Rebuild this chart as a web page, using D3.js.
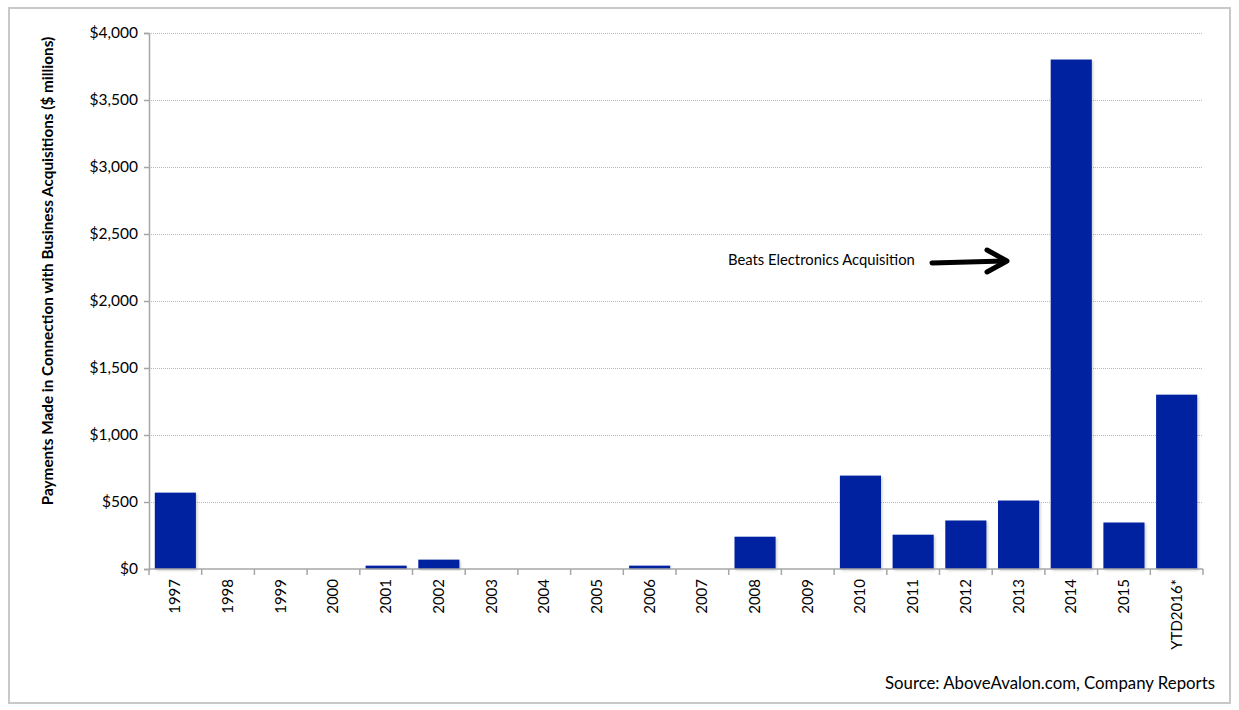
<!DOCTYPE html>
<html>
<head>
<meta charset="utf-8">
<script src="https://cdn.jsdelivr.net/npm/d3@7"></script>
<style>
  body { margin: 0; background: #fff; }
  svg { display: block; font-family: Lato, "Open Sans", sans-serif; }
</style>
</head>
<body>
<svg id="chart"></svg>
<script>
const years = ["1997", "1998", "1999", "2000", "2001", "2002", "2003", "2004", "2005", "2006",
  "2007", "2008", "2009", "2010", "2011", "2012", "2013", "2014", "2015", "YTD2016*"];
const payments = [570, 0, 0, 0, 25, 70, 0, 0, 0, 25,
  0, 241, 0, 697, 256, 362, 511, 3802, 347, 1301];
const yTicks = [0, 500, 1000, 1500, 2000, 2500, 3000, 3500, 4000];

const width = 1239, height = 710;
const margin = { top: 33, right: 36, bottom: 141, left: 149 };

const svg = d3.select("#chart")
  .attr("width", width)
  .attr("height", height);

// outer frame
svg.append("rect")
  .attr("x", 9).attr("y", 8)
  .attr("width", 1221).attr("height", 695)
  .attr("fill", "none")
  .attr("stroke", "#c8c8c8")
  .attr("stroke-width", 2);

const x = d3.scaleBand()
  .domain(years)
  .range([margin.left, width - margin.right])
  .paddingInner(0.22)
  .paddingOuter(0.11);

const y = d3.scaleLinear()
  .domain([0, 4000])
  .range([height - margin.bottom, margin.top]);

// gridlines
svg.append("g")
  .selectAll("line")
  .data(yTicks.filter(d => d > 0))
  .join("line")
  .attr("x1", margin.left)
  .attr("x2", width - margin.right)
  .attr("y1", d => y(d) + 0.5)
  .attr("y2", d => y(d) + 0.5)
  .attr("stroke", "#b8b8b8")
  .attr("stroke-dasharray", "1,1");

// shadow for bars
const defs = svg.append("defs");
const f = defs.append("filter").attr("id", "shadow")
  .attr("x", "-10%").attr("y", "-10%").attr("width", "130%").attr("height", "130%");
f.append("feDropShadow")
  .attr("dx", 1.5).attr("dy", 1.5).attr("stdDeviation", 1)
  .attr("flood-color", "#000").attr("flood-opacity", 0.18);

svg.append("g")
  .selectAll("rect")
  .data(years.map((yr, i) => ({ yr, v: payments[i] })).filter(d => d.v > 0))
  .join("rect")
  .attr("x", d => x(d.yr))
  .attr("y", d => y(d.v))
  .attr("width", x.bandwidth())
  .attr("height", d => y(0) - y(d.v))
  .attr("fill", "#0622a0")
  .attr("filter", "url(#shadow)");

// y axis
const yAxis = svg.append("g")
  .attr("transform", `translate(${margin.left},0)`)
  .call(d3.axisLeft(y).tickValues(yTicks).tickSize(5).tickPadding(6)
    .tickFormat(d => "$" + d3.format(",")(d)));
yAxis.select(".domain").attr("stroke", "#a6a6a6").attr("stroke-width", 1.5);
yAxis.selectAll(".tick line").attr("stroke", "#a6a6a6").attr("stroke-width", 1.5);
yAxis.selectAll(".tick text").attr("font-size", 15.5).attr("fill", "#000")
  .attr("font-family", "Lato, sans-serif");

// x axis
const xAxis = svg.append("g")
  .attr("transform", `translate(0,${y(0)})`);
xAxis.append("line")
  .attr("x1", margin.left).attr("x2", width - margin.right)
  .attr("stroke", "#a6a6a6").attr("stroke-width", 1.5);
const boundaries = d3.range(years.length + 1).map(i => margin.left + i * (width - margin.left - margin.right) / years.length);
xAxis.selectAll("line.tk")
  .data(boundaries)
  .join("line")
  .attr("class", "tk")
  .attr("x1", d => d).attr("x2", d => d)
  .attr("y1", 0).attr("y2", 6)
  .attr("stroke", "#a6a6a6").attr("stroke-width", 1.5);
xAxis.selectAll("text")
  .data(years)
  .join("text")
  .attr("transform", d => `translate(${x(d) + x.bandwidth() / 2 + 5},10) rotate(-90)`)
  .attr("text-anchor", "end")
  .attr("font-size", 15)
  .attr("fill", "#000")
  .text(d => d);

// y title
svg.append("text")
  .attr("transform", "translate(53,271) rotate(-90)")
  .attr("text-anchor", "middle")
  .attr("font-size", 15.3)
  .attr("font-weight", "bold")
  .text("Payments Made in Connection with Business Acquisitions ($ millions)");

// annotation
svg.append("text")
  .attr("x", 728).attr("y", 265)
  .attr("font-size", 14.8)
  .text("Beats Electronics Acquisition");
svg.append("path")
  .attr("d", d3.line()([[932, 263], [1004, 261]]))
  .attr("stroke", "#000")
  .attr("stroke-width", 5)
  .attr("stroke-linecap", "round");
svg.append("path")
  .attr("d", d3.line()([[987, 250], [1007, 261], [987, 272]]))
  .attr("fill", "none")
  .attr("stroke", "#000")
  .attr("stroke-width", 5)
  .attr("stroke-linecap", "round")
  .attr("stroke-linejoin", "round");

// source
svg.append("text")
  .attr("x", 1215).attr("y", 689)
  .attr("text-anchor", "end")
  .attr("font-size", 16.8)
  .text("Source: AboveAvalon.com, Company Reports");
</script>
</body>
</html>
